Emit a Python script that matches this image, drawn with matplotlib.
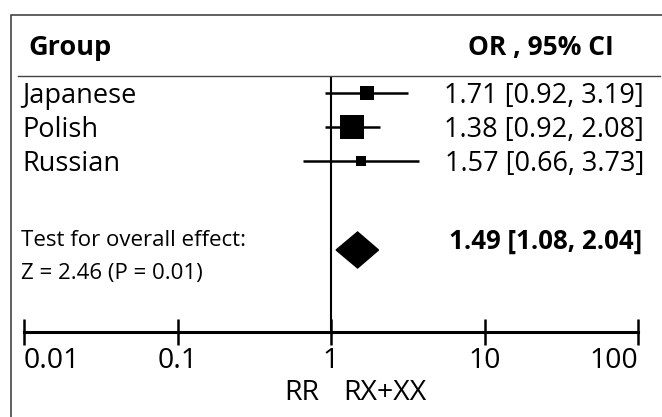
import matplotlib
matplotlib.use("Agg")
import matplotlib.pyplot as plt
from matplotlib.patches import Polygon, Rectangle
from matplotlib.lines import Line2D

plt.rcParams['font.family'] = ['Open Sans', 'DejaVu Sans']

# ---- data ----
groups = ["Japanese", "Polish", "Russian"]
or_vals = [1.71, 1.38, 1.57]
ci_low = [0.92, 0.92, 0.66]
ci_high = [3.19, 2.08, 3.73]
weights = [10, 17, 7]          # relative square size (marker points)
overall = 1.49
overall_low = 1.08
overall_high = 2.04
tick_vals = [0.01, 0.1, 1, 10, 100]
tick_labels = ["0.01", "0.1", "1", "10", "100"]
overall_text = "1.49 [1.08, 2.04]"
test_lines = ["Test for overall effect:", "Z = 2.46 (P = 0.01)"]

W, H = 662, 417
fig = plt.figure(figsize=(W / 100, H / 100), dpi=100)

def fx(px):
    return px / W

def fy(py):
    return 1 - py / H

# axes: x from 0.01 (px 24) to 100 (px 638); y from axis line (px 332) to header (px 76)
ax_left, ax_right = 24, 638
ax_bottom, ax_top = 332, 76
ax = fig.add_axes([fx(ax_left), fy(ax_bottom), (ax_right - ax_left) / W, (ax_bottom - ax_top) / H])
ax.set_xscale('log')
ax.set_xlim(0.01, 100)
ax.set_ylim(0, ax_bottom - ax_top)
ax.patch.set_alpha(0)
for s in ['left', 'right', 'top']:
    ax.spines[s].set_visible(False)
ax.spines['bottom'].set_linewidth(2.2)
ax.set_yticks([])
ax.set_xticks(tick_vals)
ax.set_xticklabels([])
ax.xaxis.set_minor_locator(matplotlib.ticker.NullLocator())
ax.tick_params(axis='x', direction='inout', length=19, width=1.8)

row_y = [ax_bottom - 93, ax_bottom - 127, ax_bottom - 161]
diamond_y = ax_bottom - 250
diamond_h = 18

ax.plot([1, 1], [0, ax_bottom - ax_top], color='black', lw=1.5, solid_capstyle='butt')

for y, v, lo, hi, w in zip(row_y, or_vals, ci_low, ci_high, weights):
    ax.plot([lo, hi], [y, y], color='black', lw=1.8, solid_capstyle='butt')
    ax.plot([v], [y], marker='s', color='black', markersize=w, markeredgewidth=0)

ax.add_patch(Polygon([[overall_low, diamond_y], [overall, diamond_y + diamond_h],
                      [overall_high, diamond_y], [overall, diamond_y - diamond_h]],
                     closed=True, facecolor='black', edgecolor='black'))

# tick labels
has = ['left', 'center', 'center', 'center', 'right']
for v, lab, ha in zip(tick_vals, tick_labels, has):
    ax.annotate(lab, xy=(v, 0), xycoords=('data', 'axes fraction'),
                xytext=(0, -36), textcoords='offset pixels', ha=ha, va='baseline', fontsize=20.5)

# frame and header line
fig.add_artist(Rectangle((fx(11), fy(420)), fx(700), fy(15) - fy(420), transform=fig.transFigure,
                         fill=False, edgecolor='#444444', lw=1.2))
fig.add_artist(Line2D([fx(18), fx(660)], [fy(76), fy(76)], transform=fig.transFigure,
                      color='#444444', lw=1.0))

# header texts
fig.text(fx(28), fy(55), "Group", fontsize=19.5, fontweight='bold', va='baseline', ha='left')
fig.text(fx(541), fy(55), "OR , 95% CI", fontsize=19, fontweight='bold', va='baseline', ha='center')

for y, g, v, lo, hi in zip([103, 137, 171], groups, or_vals, ci_low, ci_high):
    fig.text(fx(22), fy(y), g, fontsize=19.5, va='baseline', ha='left')
    fig.text(fx(644), fy(y), f"{v:.2f} [{lo:.2f}, {hi:.2f}]", fontsize=19.5, va='baseline', ha='right')

fig.text(fx(642), fy(249), overall_text, fontsize=18.6, fontweight='bold', va='baseline', ha='right')
fig.text(fx(21), fy(246), test_lines[0], fontsize=16, va='baseline', ha='left')
fig.text(fx(21), fy(279), test_lines[1], fontsize=16, va='baseline', ha='left')

fig.text(fx(302), fy(400), "RR", fontsize=20.5, va='baseline', ha='center')
fig.text(fx(385), fy(400), "RX+XX", fontsize=20.5, va='baseline', ha='center')

fig.savefig("out.png", dpi=100)
